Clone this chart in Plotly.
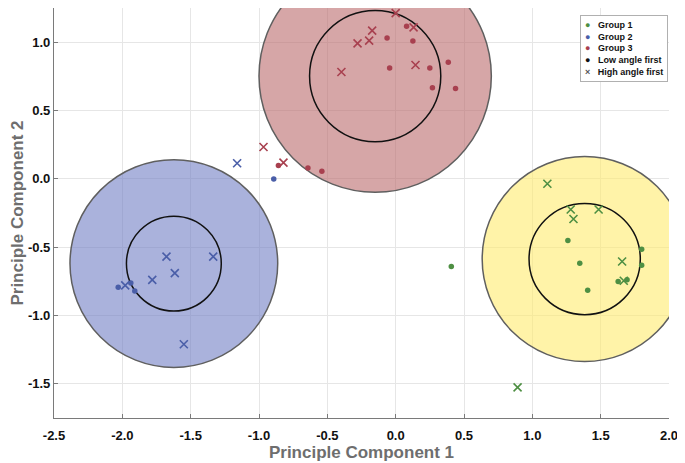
import plotly.graph_objects as go

# ---------------- data ----------------
group_names = ["Group 1", "Group 2", "Group 3"]
group_colors = ["#4e8f43", "#4a5ea8", "#a8404f"]

g1_low_x = [1.26, 1.347, 1.405, 1.80, 1.80, 1.628, 1.693, 0.407]
g1_low_y = [-0.452, -0.617, -0.816, -0.515, -0.632, -0.751, -0.739, -0.641]
g1_high_x = [1.11, 1.281, 1.485, 1.301, 1.657, 1.669, 0.892]
g1_high_y = [-0.036, -0.224, -0.224, -0.294, -0.605, -0.746, -1.526]

g2_low_x = [-2.03, -1.938, -1.909, -0.892]
g2_low_y = [-0.794, -0.763, -0.821, -0.002]
g2_high_x = [-1.16, -1.677, -1.335, -1.616, -1.781, -1.979, -1.55]
g2_high_y = [0.114, -0.569, -0.569, -0.69, -0.739, -0.78, -1.21]

g3_low_x = [0.08, -0.063, 0.126, -0.044, 0.25, 0.385, 0.269, 0.438, -0.858, -0.642, -0.54]
g3_low_y = [1.117, 1.03, 1.008, 0.811, 0.811, 0.853, 0.666, 0.661, 0.097, 0.08, 0.056]
g3_high_x = [0.0, -0.172, -0.194, -0.279, 0.131, 0.145, -0.397, -0.967, -0.821]
g3_high_y = [1.212, 1.084, 1.011, 0.991, 1.108, 0.833, 0.782, 0.233, 0.119]

center_x = [1.383, -1.623, -0.15]
center_y = [-0.587, -0.62, 0.752]
outer_r = [0.75, 0.76, 0.85]
inner_r = [0.407, 0.347, 0.48]
circle_fill = ["rgba(255,235,110,0.6)", "rgba(113,127,197,0.6)", "rgba(187,107,108,0.6)"]

x_ticks = [-2.5, -2.0, -1.5, -1.0, -0.5, 0.0, 0.5, 1.0, 1.5, 2.0]
y_ticks = [-1.5, -1.0, -0.5, 0.0, 0.5, 1.0]

legend_labels = ["Group 1", "Group 2", "Group 3", "Low angle first", "High angle first"]
legend_glyphs = ["●", "●", "●", "●", "×"]
legend_glyph_colors = group_colors + ["#111111", "#555555"]

low = [(g1_low_x, g1_low_y), (g2_low_x, g2_low_y), (g3_low_x, g3_low_y)]
high = [(g1_high_x, g1_high_y), (g2_high_x, g2_high_y), (g3_high_x, g3_high_y)]

# ---------------- figure ----------------
fig = go.Figure()

shapes = []
for cx, cy, ro, ri, fc in zip(center_x, center_y, outer_r, inner_r, circle_fill):
    shapes.append(dict(type="circle", xref="x", yref="y", layer="between",
                       x0=cx - ro, x1=cx + ro, y0=cy - ro, y1=cy + ro,
                       fillcolor=fc, line=dict(color="#5f5f5f", width=1.5)))
    shapes.append(dict(type="circle", xref="x", yref="y", layer="between",
                       x0=cx - ri, x1=cx + ri, y0=cy - ri, y1=cy + ri,
                       fillcolor="rgba(0,0,0,0)", line=dict(color="#111111", width=1.5)))

for i, name in enumerate(group_names):
    lx, ly = low[i]
    hx, hy = high[i]
    fig.add_trace(go.Scatter(x=lx, y=ly, mode="markers", name=name + " (low angle first)",
                             showlegend=False,
                             marker=dict(symbol="circle", size=5.5, color=group_colors[i])))
    fig.add_trace(go.Scatter(x=hx, y=hy, mode="markers", name=name + " (high angle first)",
                             showlegend=False,
                             marker=dict(symbol="x-thin", size=8, color=group_colors[i],
                                         line=dict(width=1.6, color=group_colors[i]))))

# compact legend box as text
legend_text = "<br>".join(
    f"<span style='color:{c}'>{g}</span>   {lab}"
    for g, c, lab in zip(legend_glyphs, legend_glyph_colors, legend_labels)
)

axis_common = dict(
    showgrid=True, gridcolor="#e6e6e6", gridwidth=1, zeroline=False,
    showline=True, linecolor="#7a7a7a", linewidth=1.2,
    ticks="inside", ticklen=4, tickcolor="#7a7a7a", tickwidth=1.2,
    tickfont=dict(family="Liberation Sans", size=13, color="#111111", weight="bold"),
    mirror=False, automargin=False, ticklabeloverflow="allow",
)

fig.update_layout(
    width=685, height=463,
    margin=dict(l=46, r=24, t=0, b=53),
    plot_bgcolor="white", paper_bgcolor="white",
    shapes=shapes,
    showlegend=False,
    xaxis=dict(range=[-2.5, 2.0], tickvals=x_ticks, ticktext=[f"{v:.1f}" for v in x_ticks],
               ticklabelstandoff=5,
               title=dict(text="Principle Component 1", standoff=3,
                          font=dict(family="Liberation Sans", size=17, color="#6e6e6e", weight="bold")),
               **axis_common),
    yaxis=dict(range=[-1.75, 1.25], tickvals=y_ticks, ticktext=[f"{v:.1f}" for v in y_ticks],
               title=dict(text="Principle Component 2", standoff=0,
                          font=dict(family="Liberation Sans", size=17, color="#6e6e6e", weight="bold")),
               **axis_common),
    annotations=[dict(
        text=legend_text, xref="paper", yref="paper", x=0.998, y=0.983,
        xanchor="right", yanchor="top", align="left", showarrow=False,
        bgcolor="white", bordercolor="#b0b0b0", borderwidth=1, borderpad=4,
        font=dict(family="Liberation Sans", size=9, color="#111111", weight="bold"),
    )],
)

fig.write_html("out.html")
